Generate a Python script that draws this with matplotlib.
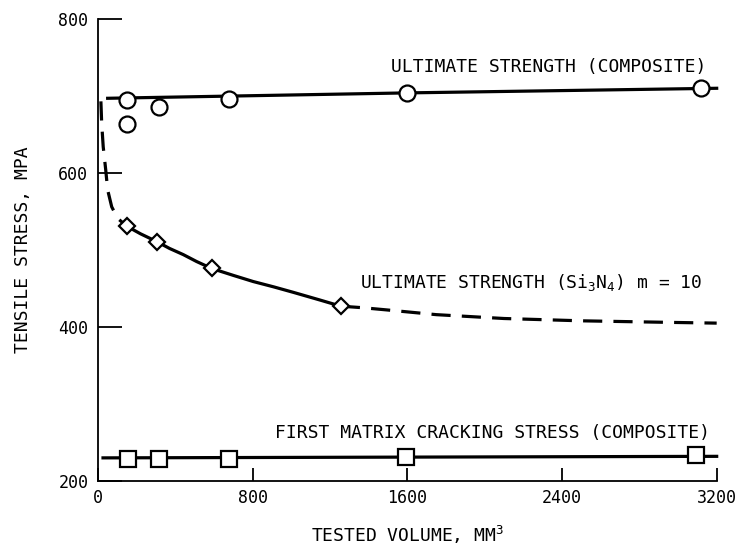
import matplotlib
matplotlib.use('Agg')
import matplotlib.pyplot as plt

plt.rcParams['font.family'] = ['DejaVu Sans Mono']
plt.rcParams['mathtext.fontset'] = 'custom'
plt.rcParams['mathtext.rm'] = 'DejaVu Sans Mono'
plt.rcParams['mathtext.it'] = 'DejaVu Sans Mono'
plt.rcParams['mathtext.default'] = 'rm'

# ultimate strength of composite (circles) and its fit line
comp_x = [150, 150, 315, 678, 1600, 3120]
comp_y = [695, 664, 686, 696, 704, 710]
comp_fit_x = [50, 1600, 3200]
comp_fit_y = [697, 704, 710]

# ultimate strength of Si3N4 (diamonds)
si_x = [148, 303, 588, 1256]
si_y = [531, 511, 476, 427]
# fitted curve: dashed start, solid middle, dashed tail
si_head_x = [15, 19, 27, 40, 50, 71, 102, 148]
si_head_y = [693, 665, 634, 604, 578, 556, 541, 531]
si_mid_x = [148, 220, 303, 370, 441, 510, 588, 700, 803, 910, 1010, 1148, 1256]
si_mid_y = [531, 521, 511, 502, 494, 485, 476, 467, 459, 452, 445, 435, 427]
si_tail_x = [1256, 1370, 1500, 1750, 2100, 2500, 2950, 3200]
si_tail_y = [427, 425, 422, 416, 411, 408, 406, 405]

# first matrix cracking stress (squares)
crack_x = [155, 315, 678, 1593, 3095]
crack_y = [229, 229, 229, 231, 234]
crack_fit_x = [26, 3200]
crack_fit_y = [230, 232]

x_ticks = [0, 800, 1600, 2400, 3200]
y_ticks = [200, 400, 600, 800]

fig = plt.figure(figsize=(7.39, 5.5), dpi=100)
ax = fig.add_axes([0.1326, 0.1255, 0.8372, 0.84])

lw = 2.3
ax.plot(comp_fit_x, comp_fit_y, color='black', lw=lw, clip_on=False)
ax.plot(comp_x, comp_y, 'o', ms=11.5, mfc='white', mec='black', mew=1.6, clip_on=False)

ax.plot(si_head_x, si_head_y, color='black', lw=lw, ls=(0, (6, 3.5)), clip_on=False)
ax.plot(si_mid_x, si_mid_y, color='black', lw=lw)
ax.plot(si_tail_x, si_tail_y, color='black', lw=lw, ls=(0, (6, 3.5)), clip_on=False)
ax.plot(si_x, si_y, 'D', ms=8, mfc='white', mec='black', mew=1.6)

ax.plot(crack_fit_x, crack_fit_y, color='black', lw=lw, clip_on=False)
ax.plot(crack_x, crack_y, 's', ms=11.5, mfc='white', mec='black', mew=1.6, clip_on=False)

ax.text(2333, 738, 'ULTIMATE STRENGTH (COMPOSITE)', ha='center', va='center', fontsize=13)
ax.text(2240, 458, r'ULTIMATE STRENGTH (Si$_3$N$_4$) m = 10', ha='center', va='center', fontsize=13)
ax.text(2038, 262, 'FIRST MATRIX CRACKING STRESS (COMPOSITE)', ha='center', va='center', fontsize=13)

ax.set_xlim(0, 3200)
ax.set_ylim(200, 800)
ax.set_xticks(x_ticks)
ax.set_yticks(y_ticks)
ax.spines['top'].set_visible(False)
ax.spines['right'].set_visible(False)
for s in ['left', 'bottom']:
    ax.spines[s].set_linewidth(1.3)
ax.tick_params(axis='y', direction='in', length=17, width=1.3, pad=7, labelsize=12)
ax.tick_params(axis='x', direction='in', length=9.5, width=1.3, pad=6, labelsize=12)

ax.set_xlabel(r'TESTED VOLUME, MM$^3$', fontsize=13, labelpad=12)
ax.set_ylabel('TENSILE STRESS, MPA', fontsize=13, labelpad=19)

fig.savefig('out.png', dpi=100)
plt.close()
